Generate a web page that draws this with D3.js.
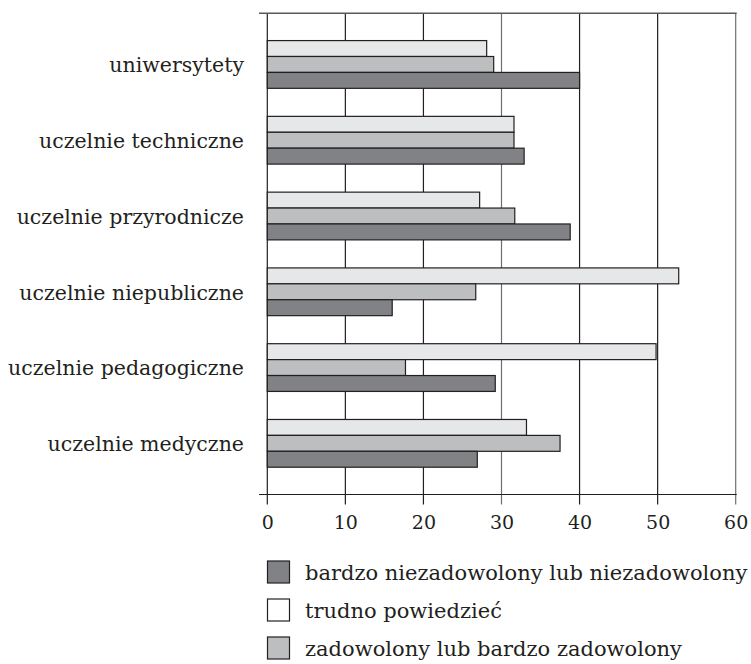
<!DOCTYPE html>
<html>
<head>
<meta charset="utf-8">
<script src="https://cdn.jsdelivr.net/npm/d3@7"></script>
<style>
  body { margin: 0; background: #fff; }
  svg text { font-family: "DejaVu Serif", Georgia, serif; fill: #231f20; }
</style>
</head>
<body>
<div id="vizz_bar"></div>
<script>
// DATA
var categories = ["uniwersytety", "uczelnie techniczne", "uczelnie przyrodnicze",
                  "uczelnie niepubliczne", "uczelnie pedagogiczne", "uczelnie medyczne"];
var trudno     = [28.1, 31.6, 27.2, 52.7, 49.8, 33.2];   // trudno powiedzieć
var zadowolony = [29.0, 31.6, 31.7, 26.7, 17.7, 37.5];   // zadowolony lub bardzo zadowolony
var niezadow   = [40.0, 32.9, 38.8, 16.0, 29.2, 26.9];   // bardzo niezadowolony lub niezadowolony
var xTicks = [0, 10, 20, 30, 40, 50, 60];
var legendLabels = ["bardzo niezadowolony lub niezadowolony", "trudno powiedzieć", "zadowolony lub bardzo zadowolony"];

var colours = {trudno: "#e6e7e8", zadowolony: "#bcbec0", niezadow: "#808285"};

// order of bars inside a group, top to bottom
var series = [
  {key: "trudno", values: trudno},
  {key: "zadowolony", values: zadowolony},
  {key: "niezadow", values: niezadow}
];

var width = 751, height = 664;
var plotTop = 13.3, plotBottom = 494.5;

var svg = d3.select("#vizz_bar")
  .append("svg")
    .attr("width", width)
    .attr("height", height);

var x = d3.scaleLinear()
  .domain([0, 60])
  .range([267.3, 735.7]);

var y = d3.scaleBand()
  .domain(categories)
  .range([plotTop, plotBottom])
  .paddingInner(0.37)
  .paddingOuter(0.36);

var yInner = d3.scaleBand()
  .domain(series.map(function(s) { return s.key; }))
  .range([0, y.bandwidth()]);

// grid lines (go down past the axis as ticks)
svg.append("g")
  .selectAll("line")
  .data(xTicks)
  .enter()
  .append("line")
    .attr("x1", function(d) { return x(d); })
    .attr("x2", function(d) { return x(d); })
    .attr("y1", plotTop)
    .attr("y2", plotBottom + 10)
    .attr("stroke", function(d) { return (d == 30 || d == 60) ? "#6d6e70" : "#231f20"; })
    .attr("stroke-width", 1.2);

// top frame line
svg.append("line")
  .attr("x1", 259).attr("x2", x(60) + 1)
  .attr("y1", plotTop).attr("y2", plotTop)
  .attr("stroke", "#58595b").attr("stroke-width", 1.4);

// Bars
series.forEach(function(s) {
  svg.append("g")
    .selectAll("rect")
    .data(s.values)
    .enter()
    .append("rect")
      .attr("x", x(0))
      .attr("y", function(d, i) { return y(categories[i]) + yInner(s.key); })
      .attr("width", function(d) { return x(d) - x(0); })
      .attr("height", yInner.bandwidth())
      .attr("fill", colours[s.key])
      .attr("stroke", "#231f20")
      .attr("stroke-width", 1.2);
});

// X axis
var xAxis = svg.append("g")
  .attr("transform", "translate(0," + plotBottom + ")")
  .call(d3.axisBottom(x).tickValues(xTicks).tickSize(0).tickPadding(0));
xAxis.select(".domain").remove();
xAxis.append("line")
  .attr("x1", 259).attr("x2", x(60) + 1)
  .attr("stroke", "#231f20").attr("stroke-width", 1.2);
xAxis.selectAll("text")
  .attr("y", 34)
  .attr("dy", null)
  .style("font-size", "19px")
  .style("font-family", "'DejaVu Serif', serif")
  .style("fill", "#231f20");

// category labels
svg.append("g")
  .selectAll("text")
  .data(categories)
  .enter()
  .append("text")
    .attr("x", 244)
    .attr("y", function(d) { return y(d) + y.bandwidth() / 2; })
    .attr("dy", "0.38em")
    .attr("text-anchor", "end")
    .style("font-size", "20.5px")
    .text(function(d) { return d; });

// Legend
var legendColours = [colours.niezadow, "#ffffff", colours.zadowolony];
var legendY = [561, 599, 637];
var legend = svg.append("g");
legendLabels.forEach(function(lab, i) {
  legend.append("rect")
    .attr("x", 267.5).attr("y", legendY[i])
    .attr("width", 22).attr("height", 22)
    .attr("fill", legendColours[i])
    .attr("stroke", "#231f20").attr("stroke-width", 1.2);
  legend.append("text")
    .attr("x", 305).attr("y", legendY[i] + 19)
    .style("font-size", "21px")
    .text(lab);
});
</script>
</body>
</html>
